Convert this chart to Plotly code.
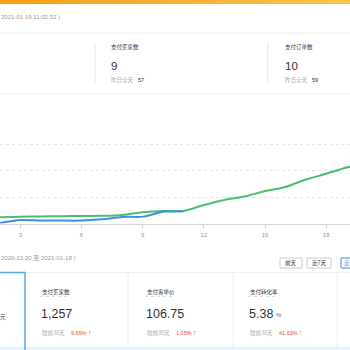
import plotly.graph_objects as go

# ---- data ----
hours_yesterday = [2, 3, 4, 5, 6, 7, 8, 9, 10, 11, 12, 13, 14, 15, 16, 17, 18, 19, 20]
yesterday_vals = [117, 128, 133, 137, 142, 144, 160, 211, 236, 236, 349, 445, 509, 613, 689, 830, 940, 1057, 1150]
hours_today = [2, 3, 4, 5, 6, 7, 8, 9, 10, 11]
today_vals = [8, 66, 58, 55, 55, 80, 125, 130, 222, 230]
x_ticks = [3, 6, 9, 12, 15, 18]

top_titles = ["支付买家数", "支付订单数"]
top_values = ["9", "10"]
top_prev = ["57", "59"]

card_titles = ["支付买家数", "支付客单价", "支付转化率"]
card_values = ["1,257", "106.75", "5.38"]
card_units = ["", "", "%"]
card_changes = ["9.69%", "1.05%", "41.63%"]

update_time = "2021-01-19 11:02:32 )"
range_text = "2020-12-20 至 2021-01-18 )"
buttons = ["前天", "近7天", "近30天"]

W = H = 350
CJK = "Noto Sans CJK SC"
NUM = "Liberation Sans, Noto Sans CJK SC"


def px(x):
    return x / W


def py(y):
    return 1 - y / H


fig = go.Figure()
fig.add_trace(go.Scatter(x=hours_yesterday, y=yesterday_vals, mode="lines",
                         line=dict(color="#48c06a", width=2, shape="spline", smoothing=0.8),
                         hoverinfo="skip", showlegend=False))
fig.add_trace(go.Scatter(x=hours_today, y=today_vals, mode="lines",
                         line=dict(color="#3d8fe8", width=2, shape="spline", smoothing=0.8),
                         hoverinfo="skip", showlegend=False))

shapes = []
annotations = []


def rect(x0, y0, x1, y1, fill=None, line=None, lw=1, dash=None):
    d = dict(type="rect", xref="paper", yref="paper", x0=px(x0), x1=px(x1), y0=py(y1), y1=py(y0),
             fillcolor=fill if fill else "rgba(0,0,0,0)", layer="below",
             line=dict(width=lw if line else 0, color=line if line else "rgba(0,0,0,0)"))
    if dash:
        d["line"]["dash"] = dash
    shapes.append(d)


def hline(x0, x1, y, color, lw=1, dash=None):
    d = dict(type="line", xref="paper", yref="paper", x0=px(x0), x1=px(x1), y0=py(y), y1=py(y),
             line=dict(color=color, width=lw))
    if dash:
        d["line"]["dash"] = dash
    shapes.append(d)


def vline(x, y0, y1, color, lw=1):
    shapes.append(dict(type="line", xref="paper", yref="paper", x0=px(x), x1=px(x), y0=py(y0), y1=py(y1),
                       line=dict(color=color, width=lw)))


def text(x, y, s, size, color, family=CJK, anchor="left"):
    annotations.append(dict(xref="paper", yref="paper", x=px(x), y=py(y), text=s, showarrow=False,
                            xanchor=anchor, yanchor="middle", font=dict(size=size, color=color, family=family)))


# top orange gradient bar
n = 35
c0 = (245, 160, 21)
c1 = (250, 196, 80)
for i in range(n):
    t = i / (n - 1)
    c = tuple(int(c0[k] + (c1[k] - c0[k]) * t) for k in range(3))
    rect(W * i / n - 0.5, -1, W * (i + 1) / n + 0.5, 4, fill="rgb(%d,%d,%d)" % c)

text(-1, 17, update_time, 6, "#999999", NUM)
hline(0, W, 33, "#eeeeee")

# top stat cards
vline(95, 43, 83, "#e8e8e8")
vline(267.7, 43, 83, "#e8e8e8")
for x0, t, v, p in zip([110, 284], top_titles, top_values, top_prev):
    text(x0 - 1, 47, t, 5.5, "#333333")
    text(x0 - 1, 66, v, 11.5, "#333333", NUM)
    text(x0 - 1, 80, "昨日全天", 5.5, "#aaaaaa")
    text(x0 + 26, 80, p, 5.5, "#333333", NUM)

hline(0, W, 93.5, "#eeeeee")

# bottom section
text(-1, 258, range_text, 6, "#999999", NUM)
btn_x = [(280, 302), (307, 331), (341, 365)]
for (b0, b1), b in zip(btn_x, buttons):
    blue = b == buttons[-1]
    rect(b0, 258, b1, 268, fill="#ffffff", line="#3d8fe8" if blue else "#cccccc", lw=1)
    text((b0 + b1) / 2, 263, b, 5.5, "#3d8fe8" if blue else "#333333", CJK, anchor="center")

rect(-0.5, 347, W, 351, fill="#e6f3fd")
hline(25, W, 272.5, "#eeeeee")
for xs in [128, 233, 337]:
    vline(xs, 272.5, 347, "#eeeeee")
# selected first card
shapes.append(dict(type="path", xref="paper", yref="paper",
                   path="M %f %f L %f %f L %f %f" % (px(-1), py(272.5), px(25), py(272.5), px(25), py(350)),
                   line=dict(color="#5aa5ee", width=1.5)))
text(-2, 316.5, "元", 5.5, "#333333")

for x0, t, v, u, c in zip([40, 145, 248], card_titles, card_values, card_units, card_changes):
    text(x0, 291.5, t, 5.5, "#333333")
    hline(x0, x0 + 28, 296.5, "#cccccc", 0.7, "dot")
    text(x0 - 1, 313.5, v, 12.5, "#333333", NUM)
    if u:
        text(x0 + 26, 315, u, 6, "#666666", NUM)
    text(x0, 332.5, "较前30天", 5.5, "#aaaaaa")
    text(x0 + 28.5, 332.5, c, 5.5, "#f0463c", NUM)
    cx = x0 + 28.5 + len(c) * 3.2 + 5
    text(cx, 332.5, "↑", 7, "#f0463c", NUM, anchor="center")

fig.update_layout(
    width=W, height=H, margin=dict(l=0, r=0, t=0, b=0),
    paper_bgcolor="#ffffff", plot_bgcolor="#ffffff",
    shapes=shapes, annotations=annotations,
    xaxis=dict(domain=[0, 1], range=[2.0, 19.17], tickvals=x_ticks, ticktext=[str(t) for t in x_ticks],
               ticks="outside", ticklen=3, tickcolor="#cccccc", showline=True, linecolor="#d9d9d9",
               linewidth=1, showgrid=False, zeroline=False, ticklabelstandoff=2,
               tickfont=dict(size=6, color="#999999", family=NUM)),
    yaxis=dict(domain=[py(223.5), py(143)], range=[0, 1520], tickvals=[0, 500, 1000, 1500],
               showgrid=True, gridcolor="#e6e6e6", griddash="dot", gridwidth=1,
               showticklabels=False, zeroline=False, showline=False),
)

fig.write_html("out.html")
